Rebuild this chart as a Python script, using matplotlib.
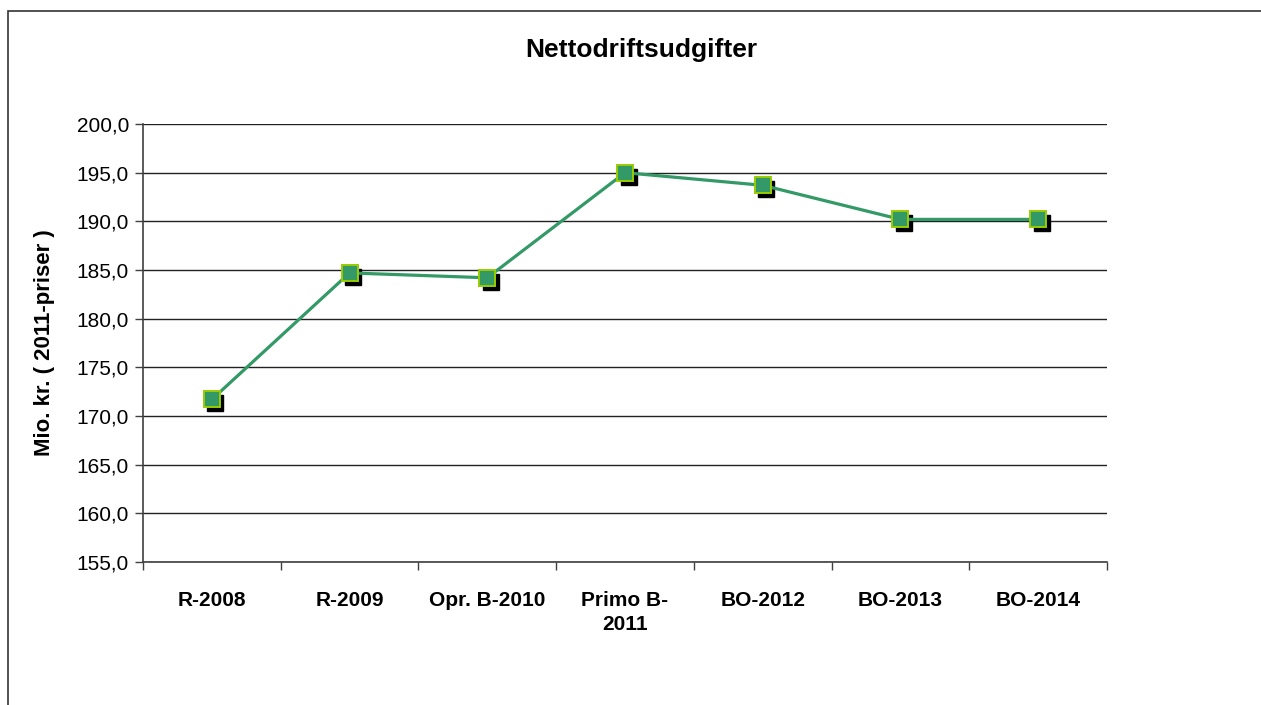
import matplotlib
matplotlib.use("Agg")
import matplotlib.pyplot as plt
import matplotlib.transforms as mtransforms
from matplotlib.patches import Rectangle

categories = ["R-2008", "R-2009", "Opr. B-2010", "Primo B-\n2011", "BO-2012", "BO-2013", "BO-2014"]
values = [171.7, 184.7, 184.2, 195.0, 193.7, 190.2, 190.2]
yticks = [155, 160, 165, 170, 175, 180, 185, 190, 195, 200]
title = "Nettodriftsudgifter"
ylabel = "Mio. kr. ( 2011-priser )"

plt.rcParams['font.family'] = ['Liberation Sans', 'DejaVu Sans']

W, H = 1261, 705
fig = plt.figure(figsize=(W / 100, H / 100), dpi=100)
fig.patch.set_facecolor("white")

# outer chart border
fig.add_artist(Rectangle((8 / W, -0.05), 1.2, 1 - 11 / H + 0.05, transform=fig.transFigure,
                         fill=False, edgecolor="#333333", linewidth=1.2))

ax = fig.add_axes([143 / W, 1 - 562 / H, (1107 - 143) / W, (562 - 124) / H])
x = list(range(len(categories)))
ax.set_xlim(-0.5, len(categories) - 0.5)
ax.set_ylim(155, 200)

for yv in yticks:
    ax.axhline(yv, color="#222222", linewidth=1.0, zorder=1)

shadow = mtransforms.offset_copy(ax.transData, fig=fig, x=3.5, y=-4, units="dots")
ax.plot(x, values, linestyle="none", marker="s", markersize=12, color="black",
        markeredgecolor="black", transform=shadow, zorder=2)
ax.plot(x, values, color="#339966", linewidth=2.3, marker="s", markersize=12,
        markerfacecolor="#339966", markeredgecolor="#99CC00", markeredgewidth=1.4, zorder=3)

for s in ["top", "right"]:
    ax.spines[s].set_visible(False)
for s in ["left", "bottom"]:
    ax.spines[s].set_color("#404040")
    ax.spines[s].set_linewidth(1.2)

ax.set_yticks(yticks)
ax.set_yticklabels([f"{v:.1f}".replace(".", ",") for v in yticks], fontsize=15)
ax.tick_params(axis="y", direction="out", length=6, width=1, color="#404040", pad=4)

ax.set_xticks(x)
ax.set_xticklabels(categories, fontsize=15, fontweight="bold", linespacing=1.35)
ax.tick_params(axis="x", which="major", length=0, pad=21)
ax.set_xticks([i - 0.5 for i in range(len(categories) + 1)], minor=True)
ax.tick_params(axis="x", which="minor", direction="out", length=6, width=1, color="#404040")
for lab in ax.get_xticklabels():
    lab.set_verticalalignment("top")

ax.set_ylabel(ylabel, fontsize=16, fontweight="bold")
ax.yaxis.set_label_coords(-88 / (1107 - 143), 0.5)
fig.text((525 + 758) / 2 / W, 1 - 50 / H, title, ha="center", va="center", fontsize=19, fontweight="bold")

fig.savefig("out.png", dpi=100, facecolor="white")
